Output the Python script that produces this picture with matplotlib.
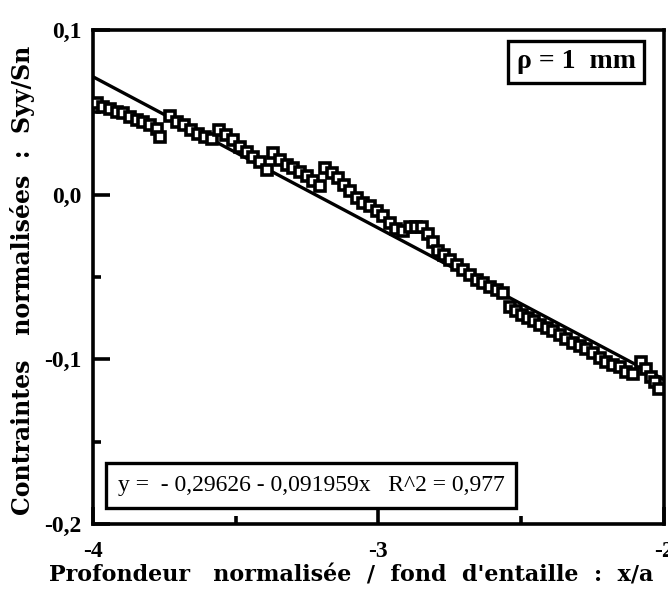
import matplotlib
matplotlib.use("Agg")
import matplotlib.pyplot as plt
import numpy as np

x_data = [-3.986, -3.965, -3.940, -3.916, -3.895, -3.870, -3.846, -3.825, -3.800, -3.776,
          -3.765, -3.730, -3.706, -3.681, -3.657, -3.632, -3.608, -3.583, -3.559, -3.534,
          -3.510, -3.485, -3.461, -3.440, -3.415, -3.391, -3.370, -3.345, -3.321, -3.299,
          -3.275, -3.250, -3.229, -3.205, -3.187, -3.163, -3.142, -3.121, -3.100, -3.075,
          -3.054, -3.030, -3.005, -2.984, -2.960, -2.939, -2.914, -2.890, -2.869, -2.848,
          -2.827, -2.809, -2.792, -2.771, -2.750, -2.725, -2.704, -2.680, -2.655, -2.634,
          -2.609, -2.585, -2.564, -2.539, -2.518, -2.497, -2.476, -2.455, -2.434, -2.410,
          -2.389, -2.364, -2.343, -2.319, -2.294, -2.273, -2.249, -2.224, -2.203, -2.179,
          -2.154, -2.133, -2.109, -2.081, -2.063, -2.046, -2.032, -2.018]
y_data = [0.0557, 0.0530, 0.0520, 0.0500, 0.0496, 0.0470, 0.0450, 0.0440, 0.0420, 0.0400,
          0.0350, 0.0480, 0.0440, 0.0420, 0.0390, 0.0370, 0.0350, 0.0340, 0.0390, 0.0360,
          0.0330, 0.0290, 0.0260, 0.0230, 0.0200, 0.0150, 0.0250, 0.0210, 0.0180, 0.0160,
          0.0140, 0.0110, 0.0080, 0.0050, 0.0160, 0.0130, 0.0100, 0.0060, 0.0020, -0.0020,
          -0.0050, -0.0070, -0.0100, -0.0130, -0.0170, -0.0210, -0.0220, -0.0200, -0.0200, -0.0200,
          -0.0240, -0.0290, -0.0340, -0.0370, -0.0400, -0.0430, -0.0460, -0.0490, -0.0520, -0.0540,
          -0.0560, -0.0580, -0.0600, -0.0680, -0.0710, -0.0730, -0.0750, -0.0770, -0.0790, -0.0810,
          -0.0830, -0.0850, -0.0880, -0.0900, -0.0920, -0.0940, -0.0960, -0.0990, -0.1015, -0.1035,
          -0.1050, -0.1075, -0.1090, -0.1015, -0.1060, -0.1110, -0.1140, -0.1180]

fit_intercept = -0.29626
fit_slope = -0.091959
fit_x = [-4.0, -2.0]
fit_y = [fit_intercept + fit_slope * v for v in fit_x]

x_ticklabels = ["-4", "-3", "-2"]
y_ticklabels = ["-0,2", "-0,1", "0,0", "0,1"]

serif = ["Liberation Serif", "DejaVu Serif"]
wide = ["DejaVu Serif"]

fig = plt.figure(figsize=(6.68, 5.94), dpi=100)
ax = fig.add_axes([0.139, 0.118, 0.855, 0.8317])

ax.plot(fit_x, fit_y, color="black", lw=2.4, zorder=2)
ax.plot(x_data, y_data, ls="none", marker="s", ms=6.6, mfc="white", mec="black",
        mew=2.6, zorder=3)

ax.set_xlim(-4, -2)
ax.set_ylim(-0.2, 0.1)

for s in ax.spines.values():
    s.set_linewidth(2.6)

ax.set_xticks([-4, -3, -2])
ax.set_xticklabels(x_ticklabels)
ax.set_xticks([-3.5, -2.5], minor=True)
ax.set_yticks([-0.2, -0.1, 0.0, 0.1])
ax.set_yticklabels(y_ticklabels)
ax.set_yticks([-0.15, -0.05, 0.05], minor=True)
ax.tick_params(axis="both", which="major", direction="in", length=12, width=2.6,
               labelsize=17)
ax.tick_params(axis="both", which="minor", direction="in", length=6, width=2.6)
ax.tick_params(axis="x", which="major", pad=12)
ax.tick_params(axis="y", which="major", pad=8)
for lab in ax.get_xticklabels() + ax.get_yticklabels():
    lab.set_fontfamily(serif)
    lab.set_fontweight("bold")

fig.text(351 / 668, 1 - 576 / 594, "Profondeur   normalisée  /  fond  d'entaille  :  x/a",
         ha="center", va="center", fontfamily=wide, fontweight="bold", fontsize=16)
fig.text(23 / 668, 1 - 280 / 594, "Contraintes   normalisées  :  Syy/Sn",
         ha="center", va="center", rotation=90,
         fontfamily=wide, fontweight="bold", fontsize=17)

ax.text(0.846, 0.935, "ρ = 1  mm", transform=ax.transAxes, ha="center", va="center",
        fontfamily=serif, fontweight="bold", fontsize=20,
        bbox=dict(boxstyle="square,pad=0.3", fc="white", ec="black", lw=2.4))
ax.text(0.382, 0.078, "y =  - 0,29626 - 0,091959x   R^2 = 0,977", transform=ax.transAxes,
        ha="center", va="center", fontfamily=serif, fontsize=17,
        bbox=dict(boxstyle="square,pad=0.5", fc="white", ec="black", lw=2.4))

fig.savefig("out.png", dpi=100)
